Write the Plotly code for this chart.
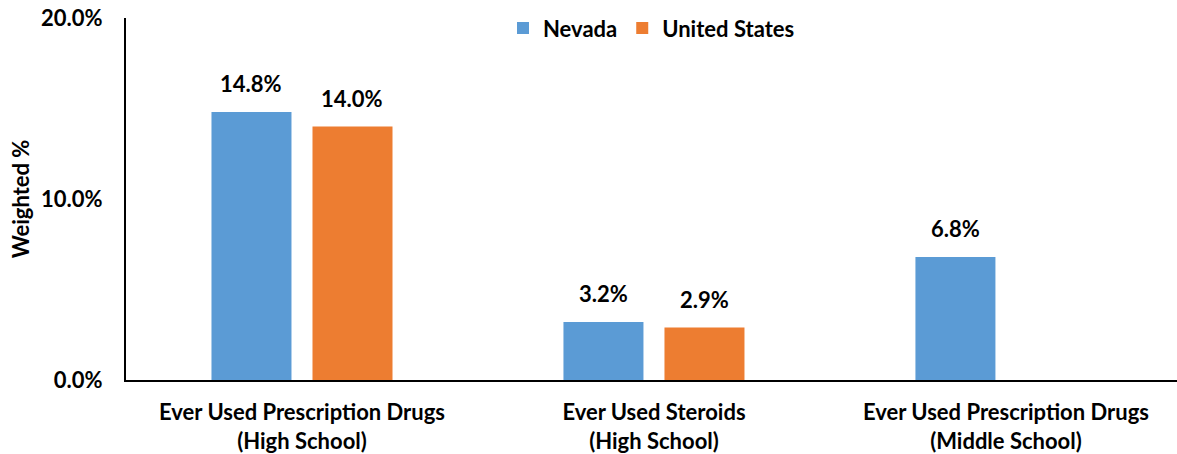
import plotly.graph_objects as go

categories = ["Ever Used Prescription Drugs<br>(High School)",
              "Ever Used Steroids<br>(High School)",
              "Ever Used Prescription Drugs<br>(Middle School)"]
series_names = ["Nevada", "United States"]
nevada = [14.8, 3.2, 6.8]
united_states = [14.0, 2.9, None]
colors = ["#5B9BD5", "#ED7D31"]
y_ticks = [0, 10, 20]
y_tick_labels = [f"{v:.1f}%" for v in y_ticks]

FONT = "Lato"
FS = 22
fig = go.Figure()
for name, vals, col in zip(series_names, [nevada, united_states], colors):
    fig.add_trace(go.Bar(x=categories, y=vals, name=name, marker_color=col,
                         marker_line_width=0))

slot_px = 101
annotations = []
for i, vals in enumerate([nevada, united_states]):
    for c, v in zip(categories, vals):
        if v is None:
            continue
        annotations.append(dict(x=c, y=v, xref="x", yref="y", text=f"<b>{v:.1f}%</b>",
                                showarrow=False, yanchor="bottom",
                                xshift=(i - 0.5) * slot_px, yshift=13,
                                font=dict(family=FONT, size=FS, color="black")))

fig.update_layout(
    width=1177, height=454,
    margin=dict(l=126, r=0, t=18, b=74),
    paper_bgcolor="white", plot_bgcolor="white",
    barmode="group", bargap=0.426, bargroupgap=0.208,
    font=dict(family=FONT, size=FS, color="black"),
    showlegend=True,
    legend=dict(orientation="h", x=0.5, xanchor="center", y=0.972, yanchor="middle",
                font=dict(family=FONT, size=FS, color="black", weight="bold"),
                itemwidth=30, bgcolor="rgba(0,0,0,0)"),
    annotations=annotations,
)
fig.update_xaxes(range=[-0.5, 2.486], showline=True, linecolor="black", linewidth=2,
                 ticks="outside", ticklen=12, tickcolor="rgba(0,0,0,0)",
                 tickfont=dict(family=FONT, size=FS, color="black", weight="bold"),
                 showgrid=False, zeroline=False, automargin=False)
fig.update_yaxes(range=[0, 20], tickvals=y_ticks, ticktext=y_tick_labels,
                 showline=True, linecolor="black", linewidth=2,
                 ticks="outside", ticklen=17, tickcolor="rgba(0,0,0,0)",
                 ticklabeloverflow="allow",
                 tickfont=dict(family=FONT, size=FS, color="black", weight="bold"),
                 showgrid=False, zeroline=False, automargin=False,
                 title=dict(text="<b>Weighted %</b>", standoff=5,
                            font=dict(family=FONT, size=FS, color="black")))

fig.write_html("out.html", config={"displayModeBar": False},
               post_script="document.body.style.margin='0';")
